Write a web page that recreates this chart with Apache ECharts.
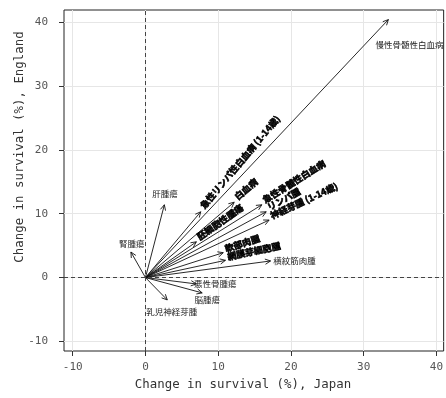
<!DOCTYPE html>
<html><head><meta charset="utf-8">
<script src="https://cdn.jsdelivr.net/npm/echarts@6.0.0/dist/echarts.min.js"></script>
<style>html,body{margin:0;padding:0;background:#fff}#c{width:446px;height:398px}</style>
</head><body><div id="c"></div>
<script>
// Data: change in survival (%), Japan (x) and England (y)
const names = ['慢性骨髄性白血病','急性リンパ性白血病 (1-14歳)','白血病','急性骨髄性白血病','リンパ腫','神経芽腫 (1-14歳)','胚細胞性腫瘍','軟部肉腫','網膜芽細胞腫','横紋筋肉腫','悪性骨腫瘍','脳腫瘍','乳児神経芽腫','腎腫瘍','肝腫瘍'];
const japan   = [33.4, 7.6, 12.2, 16.0, 16.6, 17.0, 7.0, 10.7, 11.0, 17.2, 7.0, 7.8, 3.0, -2.0, 2.6];
const england = [40.4, 10.3, 11.8, 11.4, 10.3, 9.0, 5.6, 3.9, 2.7, 2.6, -1.0, -2.4, -3.5, 4.0, 11.4];
// label anchors (data units) for horizontal labels; null = label drawn along the arrow
const labelX = [36.3, null, null, null, null, null, null, null, null, 20.5, 9.6, 8.5, 3.6, -1.9, 2.7];
const labelY = [36.5, null, null, null, null, null, null, null, null, 2.6, -1.0, -3.5, -5.4, 5.3, 13.1];
const xTicks = [-10, 0, 10, 20, 30, 40];
const yTicks = [-10, 0, 10, 20, 30, 40];

const data = names.map((n, i) => [japan[i], england[i], i]);

const chart = echarts.init(document.getElementById('c'), null, {renderer: 'canvas'});
const monoFont = 'DejaVu Sans Mono';
function makeAxis(min, max, ticks, margin) {
  return {
    type: 'value', min: min, max: max,
    axisLine: {show: false, onZero: false},
    axisTick: {show: true, inside: false, length: 5, lineStyle: {color: '#333', width: 1}, customValues: ticks},
    splitLine: {show: true, lineStyle: {color: '#e6e6e6', width: 1}},
    axisLabel: {color: '#555', fontFamily: monoFont, fontSize: 11, margin: margin, customValues: ticks}
  };
}

function renderItem(params, api) {
  const i = api.value(2);
  const p0 = api.coord([0, 0]);
  const p1 = api.coord([api.value(0), api.value(1)]);
  const dx = p1[0] - p0[0], dy = p1[1] - p0[1];
  const len = Math.hypot(dx, dy);
  const ux = dx / len, uy = dy / len;
  const ah = 6, aa = 0.45, c = Math.cos(aa), s = Math.sin(aa);
  const bx = -ux, by = -uy;
  const h1 = [p1[0] + ah * (bx * c - by * s), p1[1] + ah * (bx * s + by * c)];
  const h2 = [p1[0] + ah * (bx * c + by * s), p1[1] + ah * (-bx * s + by * c)];
  const children = [
    {type: 'line', shape: {x1: p0[0], y1: p0[1], x2: p1[0], y2: p1[1]}, style: {stroke: '#111', lineWidth: 0.9}},
    {type: 'polyline', shape: {points: [h1, p1, h2]}, style: {stroke: '#111', lineWidth: 0.9, fill: null}}
  ];
  if (labelX[i] === null) {
    const ang = Math.atan2(-dy, dx);
    children.push({
      type: 'text', x: p1[0] + 2 * ux, y: p1[1] + 2 * uy - 3, rotation: ang,
      style: {text: names[i], x: 0, y: 0, align: 'left', verticalAlign: 'middle',
        font: 'bold 9px "Noto Sans CJK JP"', fill: '#000', stroke: '#000', lineWidth: 0.6}
    });
  } else {
    const lp = api.coord([labelX[i], labelY[i]]);
    children.push({
      type: 'text', x: lp[0], y: lp[1],
      style: {text: names[i], x: 0, y: 0, align: 'center', verticalAlign: 'middle',
        font: '8.5px "Noto Sans CJK JP"', fill: '#222'}
    });
  }
  return {type: 'group', children};
}

chart.setOption({
  animation: false,
  backgroundColor: '#fff',
  grid: {left: 64, right: 1, top: 10, bottom: 47, show: true, borderColor: '#222', borderWidth: 1, backgroundColor: 'transparent'},
  xAxis: makeAxis(-11.2, 41.0, xTicks, 11),
  yAxis: makeAxis(-11.5, 41.9, yTicks, 16),
  graphic: [
    {type: 'text', x: 243, y: 385, style: {text: 'Change in survival (%), Japan', align: 'center', verticalAlign: 'middle', font: '12.4px "DejaVu Sans Mono"', fill: '#333'}},
    {type: 'text', x: 20, y: 147, rotation: Math.PI / 2, style: {text: 'Change in survival (%), England', align: 'center', verticalAlign: 'middle', font: '12.4px "DejaVu Sans Mono"', fill: '#333'}}
  ],
  series: [
    {type: 'line', data: [], silent: true,
     markLine: {silent: true, symbol: 'none', label: {show: false},
       lineStyle: {color: '#444', type: [4, 3], width: 1},
       data: [{xAxis: 0}, {yAxis: 0}]}},
    {type: 'custom', data: data, renderItem: renderItem, clip: false, silent: true}
  ]
});
</script></body></html>
